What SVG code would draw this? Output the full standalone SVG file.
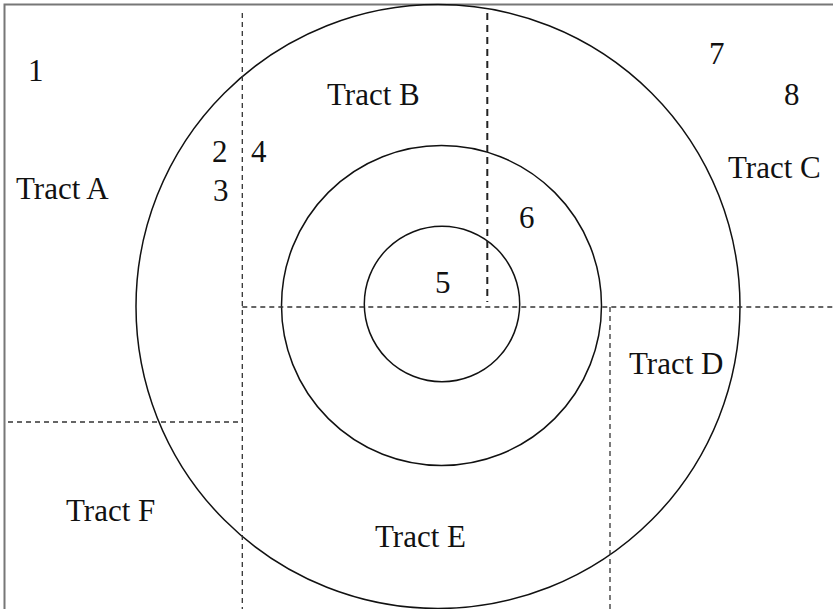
<svg xmlns="http://www.w3.org/2000/svg" width="833" height="609" viewBox="0 0 833 609">
<style>
.frame{fill:none;stroke:#777;stroke-width:2}
.ring{fill:none;stroke:#111;stroke-width:1.5}
.dash{fill:none;stroke:#333;stroke-width:1.3;stroke-dasharray:5,4}
.dashb{fill:none;stroke:#222;stroke-width:2;stroke-dasharray:7,5}
text{font-family:"Liberation Serif","Times New Roman",serif;font-size:31px;fill:#111}
</style>
<rect width="833" height="609" fill="#fff"/>
<path class="frame" d="M4.5,609 V4.5 H833"/>
<g id="rings">
<circle class="ring" cx="438" cy="306.5" r="302"/>
<circle class="ring" cx="441.5" cy="305.5" r="160"/>
<circle class="ring" cx="442" cy="304" r="77.7"/>
</g>
<g id="boundaries">
<line class="dash" x1="242.3" y1="13" x2="242.3" y2="609"/>
<line class="dash" x1="8" y1="422" x2="242.3" y2="422"/>
<line class="dash" x1="242.3" y1="307" x2="833" y2="307"/>
<line class="dashb" x1="487.3" y1="13" x2="487.3" y2="302"/>
<line class="dash" x1="610" y1="307" x2="610" y2="609"/>
</g>
<g id="labels">
<text x="28" y="81">1</text>
<text x="16" y="199">Tract A</text>
<text x="212" y="162">2</text>
<text x="251" y="162">4</text>
<text x="213" y="201">3</text>
<text x="327" y="105">Tract B</text>
<text x="709" y="64">7</text>
<text x="784" y="105">8</text>
<text x="728" y="178">Tract C</text>
<text x="519" y="228">6</text>
<text x="435" y="293">5</text>
<text x="629" y="374">Tract D</text>
<text x="66" y="521">Tract F</text>
<text x="375" y="547">Tract E</text>
</g>
</svg>
